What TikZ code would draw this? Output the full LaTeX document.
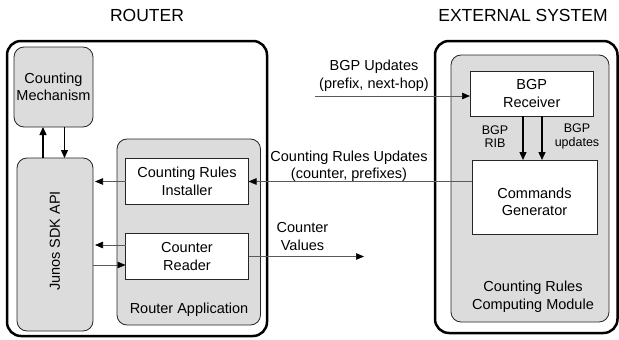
\documentclass[tikz,border=0pt]{standalone}
\usepackage{fontspec}
\setmainfont{Liberation Sans}
\usetikzlibrary{arrows.meta,calc}
\definecolor{boxgray}{RGB}{220,220,220}
\definecolor{linegray}{RGB}{90,90,90}
\begin{document}
\begin{tikzpicture}[x=1pt,y=-1pt,
  every node/.style={inner sep=0pt, outer sep=0pt, font=\fontsize{14.5}{17.5}\selectfont, align=center},
  outerbox/.style={draw=black, line width=2.5pt, rounded corners=14pt},
  graybox/.style={draw=black!85, fill=boxgray, line width=0.8pt, rounded corners=10pt},
  whitebox/.style={draw=black!85, fill=white, line width=0.8pt},
  conn/.style={draw=linegray, line width=0.7pt, -{Triangle[length=8pt,width=6.5pt,color=black]}},
  varrow/.style={draw=black, line width=1.3pt, -{Triangle[length=8pt,width=7pt]}},
  title/.style={font=\fontsize{17.5}{20}\selectfont},
  small/.style={font=\fontsize{12.5}{13.5}\selectfont}
]
\useasboundingbox (0,0) rectangle (619,340);

% titles
\node[title] (t1) at (147,15) {ROUTER};
\node[title] (t2) at (523,15) {EXTERNAL SYSTEM};

% outer boxes
\node[outerbox, minimum width=260pt, minimum height=295pt] (router) at (137,188.5) {};
\node[outerbox, minimum width=182.5pt, minimum height=292pt] (ext) at (526.25,187) {};

% router contents
\node[graybox, minimum width=79pt, minimum height=80pt] (cm) at (53.5,87) {Counting\\Mechanism};
\node[graybox, minimum width=76pt, minimum height=173pt] (junos) at (55,244.5) {};
\node[rotate=90] (junostext) at (55,241) {Junos SDK API};
\node[graybox, minimum width=143.5pt, minimum height=186pt] (app) at (188.75,232) {};
\node (applabel) at (189,310) {Router Application};
\node[whitebox, minimum width=123pt, minimum height=46pt] (inst) at (187,181.5) {Counting Rules\\Installer};
\node[whitebox, minimum width=123pt, minimum height=46pt] (reader) at (187,256.5) {Counter\\Reader};

% external contents
\node[graybox, minimum width=158pt, minimum height=267pt] (crcm) at (530,188.5) {};
\node (crcmlabel) at (533,296.5) {Counting Rules\\Computing Module};
\node[whitebox, minimum width=123.5pt, minimum height=45pt] (recv) at (531.75,93.5) {BGP\\Receiver};
\node[whitebox, minimum width=125pt, minimum height=74pt,
  label={[align=center, font=\fontsize{14.5}{17.5}\selectfont, yshift=-5pt]center:Commands\\Generator}] (cmd) at (534.5,197) {};

% labels
\node[small] (ribl) at (495,136.5) {BGP\\RIB};
\node[small] (updl) at (577,136.5) {BGP\\updates};
\node (bgpl) at (374,76) {BGP Updates\\(prefix, next-hop)};
\node (crul) at (349,166.5) {Counting Rules Updates\\(counter, prefixes)};
\node (cvl) at (302.5,236.5) {Counter\\Values};

% free ends
\coordinate (bgpin) at (315,96);
\coordinate (cvout) at (364,256.5);

% connectors
\draw[varrow] ([xshift=-12pt]junos.north) -- ([xshift=-12pt]junos.north |- cm.south);
\draw[varrow] ([xshift=11pt]cm.south) -- ([xshift=11pt]cm.south |- junos.north);
\draw[conn, shorten >=2pt] (inst.west) -- (inst.west -| junos.east);
\draw[conn, shorten >=2pt] ([yshift=11.5pt]reader.west) -- ([yshift=11.5pt]reader.west -| junos.east);
\draw[conn] ([yshift=-8.5pt]reader.west -| junos.east) -- ([yshift=-8.5pt]reader.west);
\draw[conn] (inst.east -| cmd.west) -- (inst.east);
\draw[conn] (reader.east) -- (cvout);
\draw[conn] (bgpin) -- (bgpin -| recv.west);
\draw[varrow] ([xshift=-8.75pt]recv.south) -- ([xshift=-8.75pt]recv.south |- cmd.north);
\draw[varrow] ([xshift=10.25pt]recv.south) -- ([xshift=10.25pt]recv.south |- cmd.north);
\end{tikzpicture}
\end{document}
